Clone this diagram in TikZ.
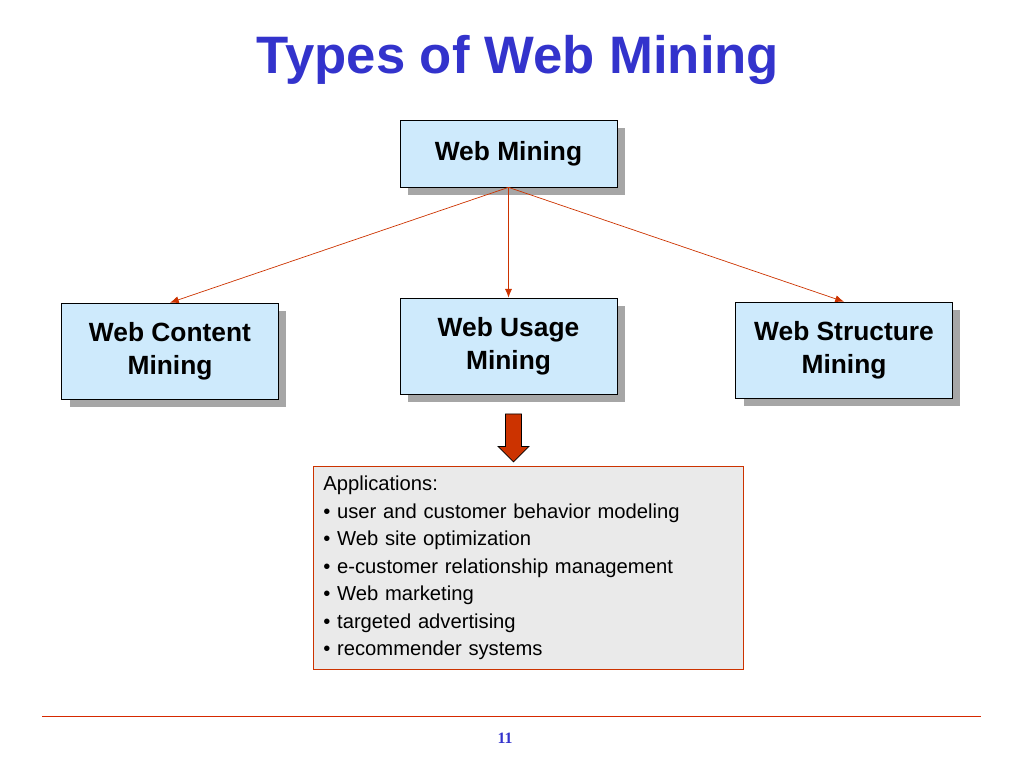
\documentclass[tikz,border=0pt]{standalone}
\usepackage{fontspec}
\setmainfont{Liberation Sans}
\newfontfamily\pagefont{Liberation Serif}
\usetikzlibrary{arrows.meta, shapes.arrows, shadows, positioning}
\definecolor{boxblue}{RGB}{206,234,252}
\definecolor{titleblue}{RGB}{51,51,204}
\definecolor{linkred}{RGB}{204,51,0}
\definecolor{appgray}{RGB}{234,234,234}
\begin{document}
\begin{tikzpicture}[x=0.02cm, y=-0.02cm,
    kind/.style={rectangle, draw=black, fill=boxblue, align=center, font=\bfseries\fontsize{15}{19}\selectfont,
        minimum width=4.34cm, minimum height=1.92cm, inner sep=2pt,
        drop shadow={shadow xshift=0.16cm, shadow yshift=-0.16cm, fill=gray!70, opacity=1}},
    link/.style={draw=linkred, -{Latex[length=5pt, width=4pt]}}]
    \useasboundingbox (0,0) rectangle (1024,768);
    \node[font=\bfseries\fontsize{30}{36}\selectfont, text=titleblue] (title) at (518,60) {Types of Web Mining};

    \node[kind, minimum height=1.34cm] (mining) at (508.5,153.5) {Web Mining};
    \node[kind] (content) at (170,351) {Web Content\\Mining};
    \node[kind] (usage) at (508.5,346) {Web Usage\\Mining};
    \node[kind] (structure) at (844,350) {Web Structure\\Mining};

    \path[link] (mining.south) -- (content.north);
    \path[link] (mining.south) -- (usage.north);
    \path[link] (mining.south) -- (structure.north);

    \node[single arrow, shape border rotate=270, draw=black, fill=linkred, minimum height=0.96cm,
        minimum width=0.62cm, single arrow head extend=0.04cm, inner sep=1pt] (down) at (513.5,434) {};

    \node[draw=linkred, fill=appgray, align=left, anchor=north west, text width=8.2cm,
        minimum width=8.44cm, minimum height=4.06cm, inner sep=0.2cm,
        font=\fontsize{11.5}{15.6}\selectfont] (apps) at (313,466) {%
        Applications:\\
        \textbullet{} user and customer behavior modeling\\
        \textbullet{} Web site optimization\\
        \textbullet{} e-customer relationship management\\
        \textbullet{} Web marketing\\
        \textbullet{} targeted advertising\\
        \textbullet{} recommender systems};

    \coordinate (rulea) at (42,716);
    \coordinate (ruleb) at (981,716);
    \draw[linkred!80!red] (rulea) -- (ruleb);
    \node[font=\pagefont\bfseries\fontsize{9}{11}\selectfont, text=titleblue] (page) at (505,738) {11};
\end{tikzpicture}
\end{document}
